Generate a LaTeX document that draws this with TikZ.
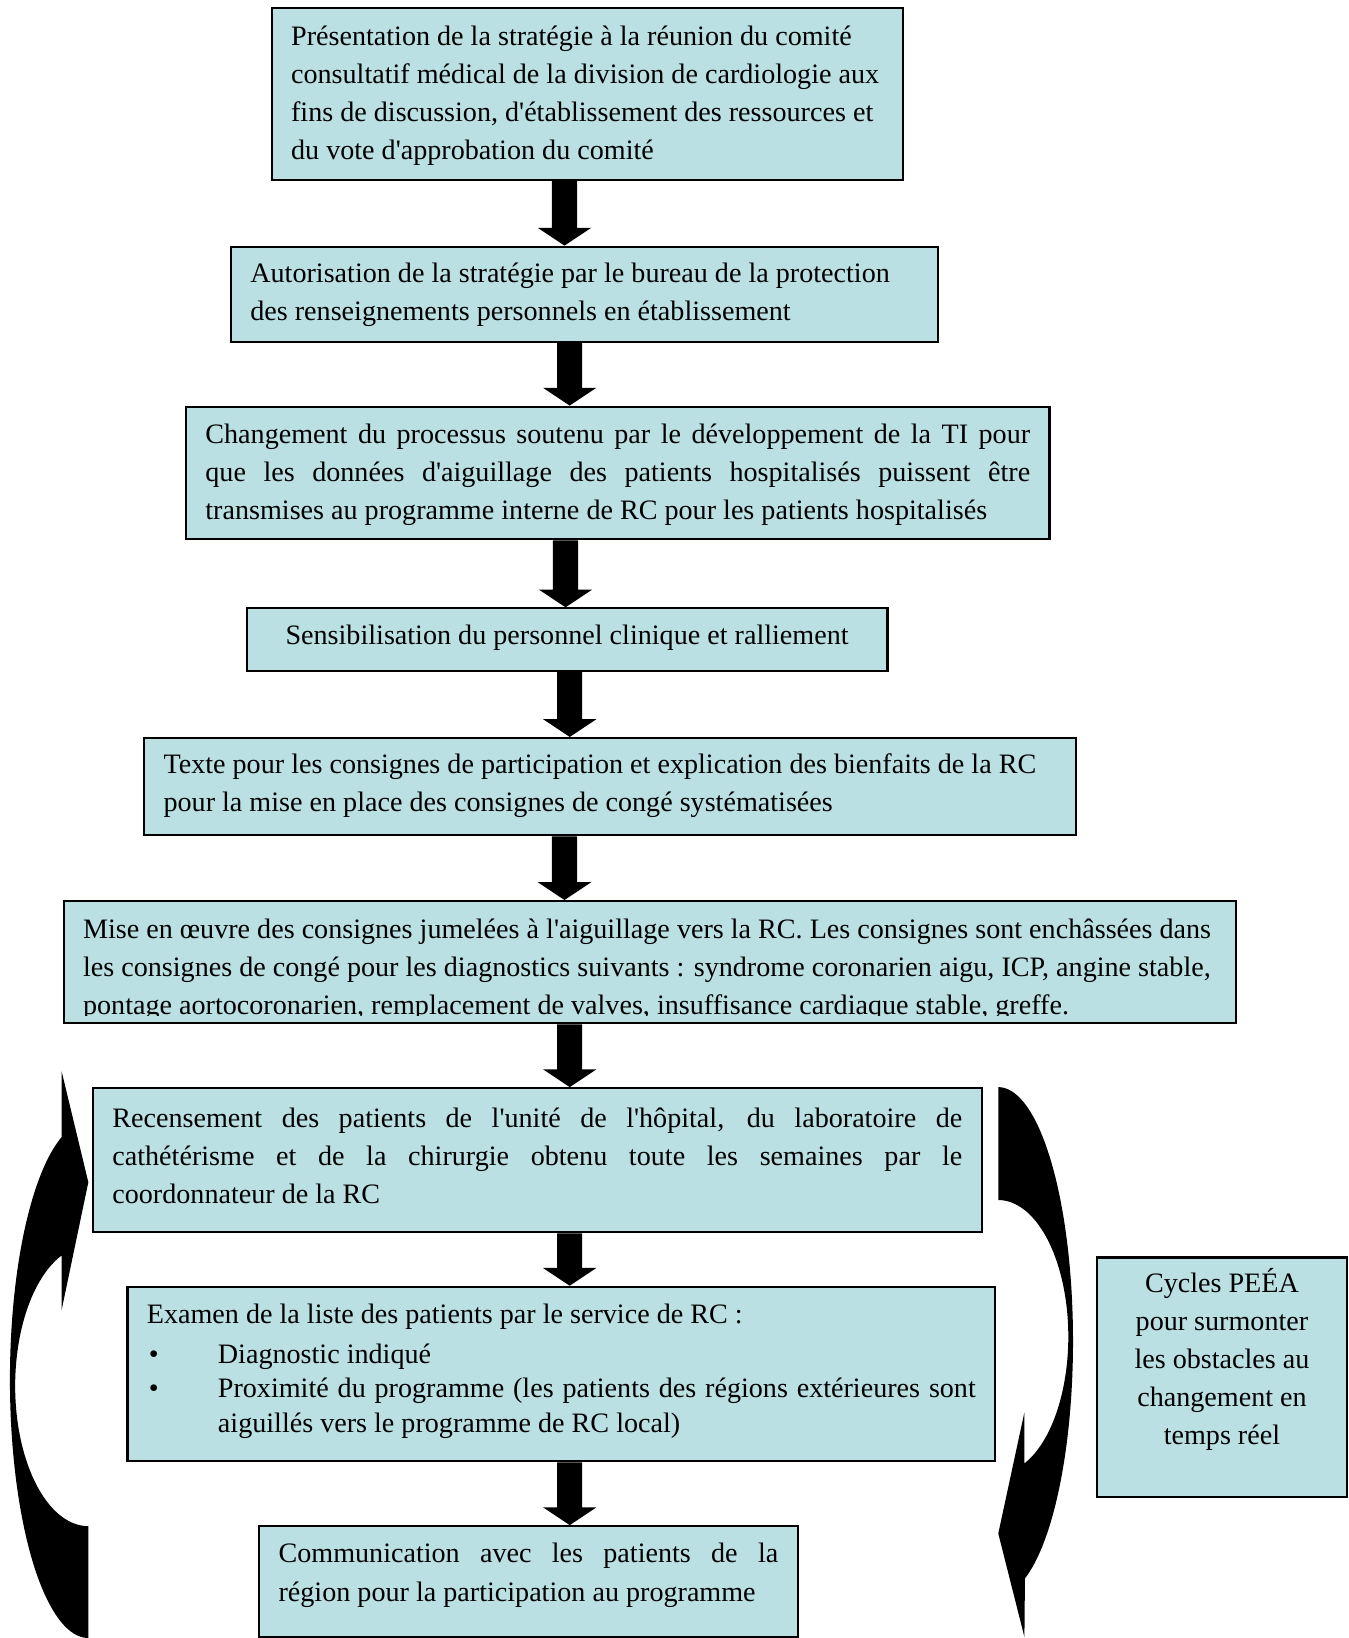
\documentclass[tikz,border=0pt]{standalone}
\usepackage{fontspec}
\setmainfont{Liberation Serif}
\usetikzlibrary{calc}
\definecolor{boxfill}{RGB}{186,224,227}
\newcommand\q{\textquotesingle}
\newcommand\topstrut{\rule{0pt}{12.7pt}}
\newcommand\bt[4]{\parbox[c][#1][t]{#2}{\vspace*{#3}\topstrut #4}}
\newcommand\jl[1]{\makebox[\linewidth][s]{#1}}
\newcommand\blockarrow[3]{%
  \fill[black] let \p1=(#1 |- #2.south), \p2=(#1 |- #3.north) in
    (\x1-6pt,\y1) -- (\x1+6pt,\y1) -- (\x1+6pt,\y2+8.5pt) -- (\x1+12.75pt,\y2+8.5pt)
    -- (\x1,\y2) -- (\x1-12.75pt,\y2+8.5pt) -- (\x1-6pt,\y2+8.5pt) -- cycle;}
\begin{document}
\begin{tikzpicture}[x=0.5pt,y=-0.5pt,
  box/.style={draw=black, fill=boxfill, line width=1pt, inner xsep=9.25pt, inner ysep=0pt,
    font=\fontsize{13.45pt}{18.2pt}\selectfont},
  bigarrow/.style={fill=black}]
\useasboundingbox (0,0) rectangle (1290,1567);

% curved feedback arrows
\fill[bigarrow] (59,1088)
  -- plot[domain=-109.9:-270, samples=90, variable=\t] ({84.5+75*cos(\t)},{1320+247*sin(\t)})
  -- (84.5,1460)
  -- plot[domain=-270:-111.4, samples=90, variable=\t] ({84.5+70*cos(\t)},{1325.9+134.1*sin(\t)})
  -- (59,1253) -- (84.5,1131) -- (59,1025) -- cycle;
\fill[bigarrow] (955,1040)
  -- plot[domain=-90:69.1, samples=90, variable=\t] ({955+71.5*cos(\t)},{1283+243*sin(\t)})
  -- (980,1566) -- (955,1467) -- (980,1351) -- (980,1400)
  -- plot[domain=68.1:-90, samples=90, variable=\t] ({955+67*cos(\t)},{1278.7+130.7*sin(\t)})
  -- cycle;

% boxes
\node[box, minimum width=302pt, minimum height=82pt] (b1) at (562,90)
  {\bt{82pt}{283.5pt}{4.9pt}{Présentation de la stratégie à la réunion du comité\\
   consultatif médical de la division de cardiologie aux\\
   fins de discussion, d\q établissement des ressources et\\
   du vote d\q approbation du comité}};
\node[box, minimum width=338pt, minimum height=45.5pt] (b2) at (559,281.5)
  {\bt{45.5pt}{319.5pt}{4.4pt}{Autorisation de la stratégie par le bureau de la protection\\
   des renseignements personnels en établissement}};
\node[box, minimum width=413pt, minimum height=63.5pt] (b3) at (591,452.5)
  {\bt{63.5pt}{394.5pt}{4.9pt}{\jl{Changement du processus soutenu par le développement de la TI pour}\\
   \jl{que les données d\q aiguillage des patients hospitalisés puissent être}\\
   transmises au programme interne de RC pour les patients hospitalisés}};
\node[box, minimum width=306.5pt, minimum height=30pt] (b4) at (542.5,612)
  {\bt{30pt}{288pt}{4.4pt}{\centering Sensibilisation du personnel clinique et ralliement}};
\node[box, minimum width=445.5pt, minimum height=46.5pt] (b5) at (583.5,752.5)
  {\bt{46.5pt}{427pt}{4.4pt}{Texte pour les consignes de participation et explication des bienfaits de la RC\\
   pour la mise en place des consignes de congé systématisées}};
\node[box, minimum width=560.5pt, minimum height=58.5pt,
  path picture={
    \clip ([yshift=3.6pt]path picture bounding box.south west) rectangle (path picture bounding box.north east);
    \node[inner sep=0pt, font=\fontsize{13.45pt}{18.2pt}\selectfont] (b6t) at (path picture bounding box.center)
      {\bt{58.5pt}{542pt}{5.0pt}{Mise en œuvre des consignes jumelées à l\q aiguillage vers la RC. Les consignes sont enchâssées dans\\
       les consignes de congé pour les diagnostics suivants~: syndrome coronarien aigu, ICP, angine stable,\\
       pontage aortocoronarien, remplacement de valves, insuffisance cardiaque stable, greffe.}};
  }] (b6) at (621.5,920.5) {};
\node[box, minimum width=425pt, minimum height=69pt] (b7) at (514,1110)
  {\bt{69pt}{406.5pt}{5.9pt}{\jl{Recensement des patients de l\q unité de l\q hôpital, du laboratoire de}\\
   \jl{cathétérisme et de la chirurgie obtenu toute les semaines par le}\\
   coordonnateur de la RC}};
\node[box, minimum width=415pt, minimum height=83.5pt, font=\fontsize{13.45pt}{16.5pt}\selectfont] (b8) at (537,1314.5)
  {\bt{83.5pt}{396.5pt}{4.9pt}{Examen de la liste des patients par le service de RC~:\\[2.5pt]
   \makebox[34pt][l]{\hspace{1pt}\textbullet}Diagnostic indiqué\\
   \makebox[34pt][l]{\hspace{1pt}\textbullet}\makebox[\dimexpr\linewidth-34pt\relax][s]{Proximité du programme (les patients des régions extérieures sont}\\
   \hspace*{34pt}aiguillés vers le programme de RC local)}};
\node[box, minimum width=257.5pt, minimum height=53pt] (b9) at (505.5,1513)
  {\bt{53pt}{239pt}{4.9pt}{\jl{Communication avec les patients de la}\\
   région pour la participation au programme}};
\node[box, minimum width=120pt, minimum height=114.5pt] (side) at (1169,1317.5)
  {\bt{114.5pt}{101.5pt}{3.9pt}{\centering Cycles PEÉA\\ pour surmonter\\ les obstacles au\\ changement en\\ temps réel}};

% straight block arrows
\coordinate (a540) at (540,0);
\coordinate (a541) at (541,0);
\coordinate (a545) at (545,0);
\blockarrow{a540}{b1}{b2}
\blockarrow{a545}{b2}{b3}
\blockarrow{a541}{b3}{b4}
\blockarrow{a545}{b4}{b5}
\blockarrow{a540}{b5}{b6}
\blockarrow{a545}{b6}{b7}
\blockarrow{a545}{b7}{b8}
\blockarrow{a545}{b8}{b9}
\end{tikzpicture}
\end{document}
